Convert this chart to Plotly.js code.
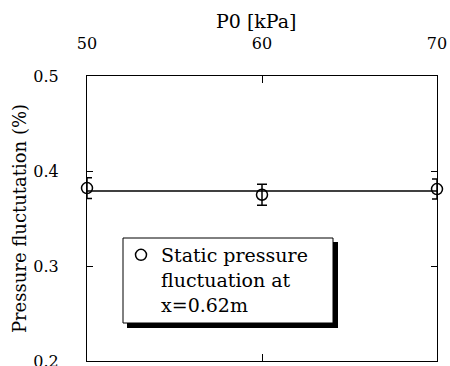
<!DOCTYPE html>
<html>
<head>
<meta charset="utf-8">
<script src="https://cdn.plot.ly/plotly-3.0.1.min.js"></script>
<style>html,body{margin:0;padding:0;background:#fff;}#chart{width:450px;height:366px;}</style>
</head>
<body>
<div id="chart"></div>
<script>
const pressureKPa = [50, 60, 70];
const fluctuation = [0.382, 0.375, 0.381];
const fluctuationErr = [0.011, 0.011, 0.0105];
const meanLineX = [50, 70];
const meanLineY = [0.379, 0.379];
const xTicks = [50, 60, 70];
const yTicks = [0.2, 0.3, 0.4, 0.5];
const seriesName = 'Static pressure<br>fluctuation at<br>x=0.62m';
const xTitle = 'P0 [kPa]';
const yTitle = 'Pressure fluctutation (%)';

const FONT = 'DejaVu Serif, Liberation Serif, serif';

const traces = [
  {
    x: meanLineX, y: meanLineY, mode: 'lines', type: 'scatter',
    line: {color: '#000', width: 1.5}, showlegend: false, hoverinfo: 'skip', cliponaxis: false
  },
  {
    x: pressureKPa, y: fluctuation, mode: 'markers', type: 'scatter', name: seriesName,
    marker: {symbol: 'circle-open', size: 11, color: '#000', line: {color: '#000', width: 1.5}},
    error_y: {type: 'data', array: fluctuationErr, visible: true, color: '#000', thickness: 1.5, width: 5},
    cliponaxis: false
  }
];

const L = 87, T = 76, W = 350, H = 285;
const px = v => (v - L) / W, py = v => 1 - (v - T) / H;

const layout = {
  width: 450, height: 366,
  margin: {l: 87, r: 13, t: 76, b: 5},
  paper_bgcolor: '#fff', plot_bgcolor: '#fff',
  font: {family: FONT, color: '#000', size: 16},
  showlegend: true,
  xaxis: {
    side: 'top', range: [50, 70], tickvals: xTicks, ticktext: xTicks.map(String),
    ticks: 'inside', ticklen: 7, tickcolor: '#000', tickwidth: 1,
    showline: true, linecolor: '#000', linewidth: 1, mirror: 'ticks',
    showgrid: false, zeroline: false, ticklabelstandoff: 20, ticklabeloverflow: 'allow',
    tickfont: {family: FONT, size: 16}
  },
  yaxis: {
    range: [0.2, 0.5], tickvals: yTicks, ticktext: yTicks.map(v => v.toFixed(1)),
    ticks: 'inside', ticklen: 6, tickcolor: '#000', tickwidth: 1,
    showline: true, linecolor: '#000', linewidth: 1, mirror: 'ticks',
    showgrid: false, zeroline: false, ticklabelstandoff: 24, ticklabeloverflow: 'allow',
    tickfont: {family: FONT, size: 16},
    title: {text: yTitle, font: {family: FONT, size: 18}, standoff: 2}
  },
  annotations: [{
    text: xTitle, xref: 'paper', yref: 'paper', x: px(256), y: py(21),
    xanchor: 'center', yanchor: 'middle', showarrow: false,
    font: {family: FONT, size: 19, color: '#000'}
  }],
  legend: {
    x: px(121), y: py(236), xanchor: 'left', yanchor: 'top',
    bgcolor: 'rgba(0,0,0,0)', borderwidth: 0,
    font: {family: FONT, size: 19}, valign: 'top', itemwidth: 30
  },
  shapes: [
    {type: 'rect', xref: 'paper', yref: 'paper', layer: 'above',
     x0: px(127), x1: px(338), y0: py(242), y1: py(328),
     fillcolor: '#000', line: {width: 0}},
    {type: 'rect', xref: 'paper', yref: 'paper', layer: 'above',
     x0: px(123), x1: px(333), y0: py(238), y1: py(323),
     fillcolor: '#fff', line: {color: '#000', width: 1}}
  ]
};

Plotly.newPlot('chart', traces, layout, {displayModeBar: false, staticPlot: true});
</script>
</body>
</html>
